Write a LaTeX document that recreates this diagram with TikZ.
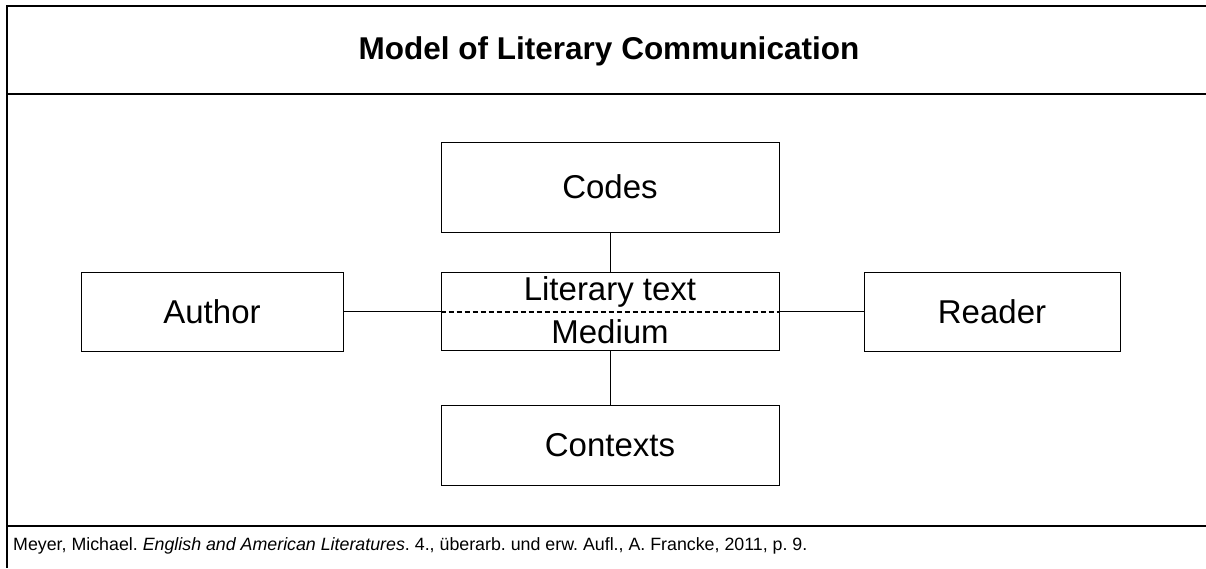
\documentclass[tikz,border=0pt]{standalone}
\usepackage{fontspec}
\setmainfont{Liberation Sans}
\frenchspacing
\begin{document}
\begin{tikzpicture}[x=1pt,y=-1pt,
  box/.style={draw,line width=1pt,rectangle,inner sep=0pt,font=\fontsize{33}{38}\selectfont},
  label/.style={font=\fontsize{33}{38}\selectfont,inner sep=0pt},
  frameline/.style={line width=1.6pt},
  link/.style={line width=1pt}]
\useasboundingbox (0,0) rectangle (1206,568);
% frame
\draw[frameline] (1206,6) -- (7,6) -- (7,568);
\draw[frameline] (7,94) -- (1206,94);
\draw[frameline] (7,526) -- (1206,526);
% title
\node[font=\bfseries\fontsize{31.5}{36}\selectfont] (title) at (609,51) {Model of Literary Communication};
% boxes
\node[box,minimum width=338pt,minimum height=90pt] (codes) at (610,187) {Codes};
\node[box,minimum width=338pt,minimum height=78pt] (lit) at (610,311.5) {};
\node[box,minimum width=262pt,minimum height=79pt] (author) at (212,311.5) {Author};
\node[box,minimum width=256pt,minimum height=79pt] (reader) at (992,311.5) {Reader};
\node[box,minimum width=338pt,minimum height=80pt] (contexts) at (610,445) {Contexts};
\node[label] (littext) at (610,292) {Literary text};
\node[label] (medium) at (610,332) {Medium};
\draw[line width=2pt,dash pattern=on 5pt off 3pt] (lit.west) -- (lit.east);
% connectors
\draw[link] (author.east) -- (lit.west);
\draw[link] (lit.east) -- (reader.west);
\draw[link] (codes.south) -- (lit.north);
\draw[link] (lit.south) -- (contexts.north);
% citation
\node[anchor=west,font=\fontsize{17.8}{21}\selectfont,inner sep=0pt] (cite) at (13,546) {Meyer, Michael. \textit{English and American Literatures}. 4., überarb. und erw. Aufl., A. Francke, 2011, p. 9.};
\end{tikzpicture}
\end{document}
